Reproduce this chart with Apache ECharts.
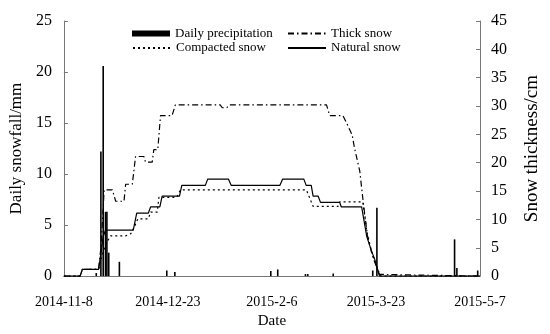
<!DOCTYPE html>
<html>
<head>
<meta charset="utf-8">
<script src="https://cdn.jsdelivr.net/npm/echarts@6/dist/echarts.min.js"></script>
<style>html,body{margin:0;padding:0;background:#fff}#c{width:550px;height:334px}</style>
</head>
<body>
<div id="c"></div>
<script>
// x axis: days since 2014-11-8
var tickLabels = ['2014-11-8', '2014-12-23', '2015-2-6', '2015-3-23', '2015-5-7'];

// Daily precipitation (mm)
var precipDays   = [14, 16, 17, 18, 18.6, 19.4, 24, 44.5, 48, 89.5, 92.5, 104.5, 105.5, 116.5, 133.6, 135.4, 169, 170, 179];
var precipValues = [0.3, 12.2, 20.6, 6.3, 6.3, 2.3, 1.4, 0.55, 0.4, 0.5, 0.65, 0.2, 0.2, 0.25, 0.55, 6.7, 3.6, 0.8, 0.55];

// Natural snow thickness (cm)
var naturalDays = [0, 7, 8, 15, 16, 17, 18, 30, 31.5, 36.5, 37.5, 41.5, 42.5, 50, 51, 61.2, 62.2, 71.2, 72.4, 93.4, 94.6, 103.8, 104.8, 107, 107.8, 110, 111, 119.3, 120, 128.8, 131, 133, 134.5, 136.5, 180];
var naturalCm   = [0, 0, 1.2, 1.2, 4, 7, 8.1, 8.1, 11.1, 11.1, 12.2, 12.2, 14.1, 14.1, 16.0, 16.0, 17.1, 17.1, 16.0, 16.0, 17.1, 17.1, 16.0, 16.0, 14.1, 14.1, 13.0, 13.0, 12.2, 12.2, 7.0, 4.5, 2.9, 0, 0];

// Compacted snow thickness (cm)
var compactedDays = [0, 7, 8, 15, 16, 18, 19.2, 20.2, 26.7, 29, 30.5, 32, 36.5, 37.5, 40.4, 41.1, 48.8, 50.4, 104.9, 107.8, 118.6, 119.3, 129.3, 131, 133, 135, 137, 180];
var compactedCm   = [0, 0, 1.2, 1.2, 3, 5.5, 6.4, 7.1, 7.1, 7.5, 8.7, 10.1, 10.1, 11.3, 11.3, 13.9, 13.9, 15.2, 15.2, 12.3, 12.3, 13.1, 13.1, 8.0, 4.5, 2.0, 0, 0];

// Thick snow thickness (cm)
var thickDays = [0, 7, 8, 15, 16, 17, 17.4, 21, 22.4, 26, 26.7, 29.6, 31, 34.6, 35.3, 38.2, 38.9, 40.6, 41.8, 46.8, 48.2, 67.6, 68.5, 70.5, 71.5, 113.6, 115, 120.7, 122.2, 124.7, 125.7, 128, 129.5, 131.4, 133.5, 136.5, 137.2, 180];
var thickCm   = [0, 0, 1.2, 1.2, 5, 12, 15.2, 15.2, 13.2, 13.2, 16.2, 16.2, 21.1, 21.1, 20.1, 20.1, 22.3, 22.3, 28.3, 28.3, 30.2, 30.2, 29.7, 29.7, 30.2, 30.2, 28.3, 28.3, 27.1, 24.9, 22.6, 18.5, 13.0, 6.9, 3.5, 0.3, 0, 0];

function zip(a, b) { return a.map(function (v, i) { return [v, b[i]]; }); }

var FONT = 'Liberation Serif';
function legendAt(left, top, name, isBar) {
  return {
    left: left, top: top, padding: 0, itemWidth: 38, itemHeight: isBar ? 6 : 1,
    textStyle: { fontFamily: FONT, fontSize: 13, color: '#000' },
    itemStyle: isBar ? {} : { opacity: 0 },
    data: [isBar ? { name: name, icon: 'rect' } : { name: name }]
  };
}
var chart = echarts.init(document.getElementById('c'));
chart.setOption({
  animation: false,
  backgroundColor: '#fff',
  textStyle: { fontFamily: FONT, color: '#000' },
  grid: { left: 63, right: 69, top: 21, bottom: 54 },
  legend: [
    legendAt(132, 27, 'Daily precipitation', true),
    legendAt(132, 41.5, 'Compacted snow', false),
    legendAt(287, 27, 'Thick snow', false),
    legendAt(287, 41.5, 'Natural snow', false)
  ],
  xAxis: {
    type: 'value', min: 0, max: 180, interval: 45,
    name: 'Date', nameLocation: 'middle', nameGap: 32,
    nameTextStyle: { fontFamily: FONT, fontSize: 15, color: '#000' },
    axisLine: { lineStyle: { color: '#777', width: 1 } },
    axisTick: { show: false },
    splitLine: { show: false },
    axisLabel: { fontFamily: FONT, fontSize: 14, color: '#000', margin: 19,
      formatter: function (v) { return tickLabels[Math.round(v / 45)]; } }
  },
  yAxis: [
    { type: 'value', min: 0, max: 25, interval: 5,
      name: 'Daily snowfall/mm', nameLocation: 'middle', nameGap: 33,
      nameTextStyle: { fontFamily: FONT, fontSize: 17, color: '#000' },
      axisLine: { show: true, lineStyle: { color: '#777' } },
      axisTick: { show: true, inside: true, length: 4, lineStyle: { color: '#777' } },
      splitLine: { show: false },
      axisLabel: { fontFamily: FONT, fontSize: 16, color: '#000', margin: 12 } },
    { type: 'value', min: 0, max: 45, interval: 5,
      name: 'Snow thickness/cm', nameLocation: 'middle', nameGap: 43,
      nameTextStyle: { fontFamily: FONT, fontSize: 19, color: '#000' },
      axisLine: { show: true, lineStyle: { color: '#777' } },
      axisTick: { show: true, inside: true, length: 4, lineStyle: { color: '#777' } },
      splitLine: { show: false },
      axisLabel: { fontFamily: FONT, fontSize: 16, color: '#000', margin: 11 } }
  ],
  series: [
    { name: 'Daily precipitation', type: 'bar', yAxisIndex: 0, barWidth: 1.6,
      itemStyle: { color: '#000' }, data: zip(precipDays, precipValues) },
    { name: 'Thick snow', type: 'line', yAxisIndex: 1, symbol: 'none',
      lineStyle: { color: '#000', width: 1.2, type: [6, 3, 1.5, 3] }, itemStyle: { color: '#000' },
      data: zip(thickDays, thickCm) },
    { name: 'Compacted snow', type: 'line', yAxisIndex: 1, symbol: 'none',
      lineStyle: { color: '#000', width: 1.2, type: [2, 3] }, itemStyle: { color: '#000' },
      data: zip(compactedDays, compactedCm) },
    { name: 'Natural snow', type: 'line', yAxisIndex: 1, symbol: 'none',
      lineStyle: { color: '#000', width: 1.2 }, itemStyle: { color: '#000' },
      data: zip(naturalDays, naturalCm) }
  ]
});
</script>
</body>
</html>
